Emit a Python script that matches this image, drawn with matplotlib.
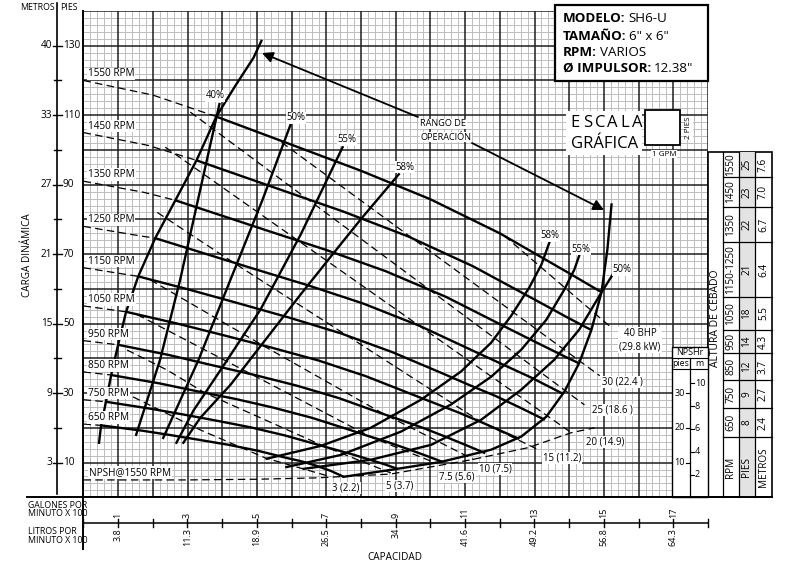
import numpy as np
import matplotlib
matplotlib.use("Agg")
import matplotlib.pyplot as plt
from matplotlib.patches import Rectangle

plt.rcParams['font.family'] = ['Open Sans', 'DejaVu Sans']

# ---------------- data (GPM, ft) ----------------
RPMS = [1550, 1450, 1350, 1250, 1150, 1050, 950, 850, 750, 650]
HEAD_Q = {
    1550: [0, 200, 383, 600, 800, 1000, 1200, 1400, 1494],
    1450: [0, 187, 326, 561, 748, 936, 1123, 1310, 1398, 1463],
    1350: [0, 174, 265, 523, 697, 871, 1045, 1219, 1301, 1394, 1428],
    1250: [0, 161, 207, 484, 645, 806, 968, 1129, 1205, 1290, 1382],
    1150: [0, 158, 297, 445, 594, 742, 890, 1039, 1108, 1187, 1261, 1330],
    1050: [0, 123, 271, 406, 542, 677, 813, 948, 1012, 1084, 1152, 1256],
    950:  [0, 100, 245, 368, 490, 613, 735, 858, 916, 981, 1042, 1103, 1158],
    850:  [0, 80, 219, 329, 439, 548, 658, 768, 819, 877, 932, 987, 1035],
    750:  [0, 65, 194, 290, 387, 484, 581, 677, 723, 774, 823, 871, 905],
    650:  [0, 51, 168, 252, 336, 419, 503, 587, 627, 671, 713, 750],
}
HEAD_H = {
    1550: [120.0, 115.8, 109.6, 101.5, 94.0, 85.8, 76.0, 64.5, 59.0],
    1450: [105.0, 101.3, 97.0, 88.8, 82.3, 75.1, 66.5, 56.4, 51.6, 48.2],
    1350: [91.0, 87.8, 85.5, 77.0, 71.3, 65.1, 57.7, 48.9, 44.8, 40.2, 38.6],
    1250: [78.0, 75.3, 74.6, 66.0, 61.1, 55.8, 49.4, 41.9, 38.4, 34.5, 29.8],
    1150: [66.1, 63.6, 60.0, 55.9, 51.7, 47.2, 41.8, 35.5, 32.5, 29.2, 25.7, 22.3],
    1050: [55.1, 53.4, 50.0, 46.6, 43.1, 39.4, 34.9, 29.6, 27.1, 24.3, 21.4, 16.8],
    950:  [45.1, 43.9, 41.0, 38.1, 35.3, 32.2, 28.6, 24.2, 22.2, 19.9, 17.5, 15.0, 12.7],
    850:  [36.1, 35.2, 32.8, 30.5, 28.3, 25.8, 22.9, 19.4, 17.7, 15.9, 14.0, 12.0, 10.2],
    750:  [28.1, 27.5, 25.5, 23.8, 22.0, 20.1, 17.8, 15.1, 13.8, 12.4, 10.9, 9.4, 8.2],
    650:  [21.1, 20.7, 19.2, 17.9, 16.5, 15.1, 13.4, 11.3, 10.4, 9.1, 7.6, 5.9],
}
# flow where the solid (operating) part of each curve begins
SOLID_FROM = {1550: 383, 1450: 326, 1350: 265, 1250: 207, 1150: 158,
              1050: 123, 950: 100, 850: 80, 750: 65, 650: 51}

LEFT_BOUND_Q = [45, 51, 65, 80, 100, 123, 158, 207, 265, 326, 383, 438, 490, 513]
LEFT_BOUND_H = [15.7, 20.7, 27.5, 35.2, 43.9, 53.4, 63.6, 74.6, 85.5, 97.0, 109.6, 118.5, 126.5, 131.4]

RIGHT_BOUND_Q = [750, 886, 1031, 1175, 1262, 1334, 1386, 1429, 1464, 1493, 1510, 1522]
RIGHT_BOUND_H = [5.9, 7.9, 10.2, 13.7, 17.5, 23.2, 30.4, 38.7, 48.2, 59.0, 71.3, 84.3]

EFF_LEFT = {
    "40%": ([152, 221, 279, 337, 392], [18.0, 39.6, 62.7, 88.7, 113.2]),
    "50%": ([230, 332, 424, 516, 597], [17.1, 39.6, 62.7, 85.6, 107.3]),
    "55%": ([268, 318, 405, 510, 626, 747], [15.7, 25.1, 38.1, 54.0, 75.6, 100.8]),
    "58%": ([288, 337, 424, 525, 626, 713, 799, 909], [15.7, 22.9, 32.4, 45.4, 58.4, 69.3, 80.0, 93.0]),
}
EFF_RIGHT = {
    "58%": ([528, 684, 828, 973, 1088, 1175, 1233, 1285, 1320, 1343],
            [11.1, 14.8, 20.0, 28.1, 36.2, 44.5, 52.3, 60.4, 67.0, 73.4]),
    "55%": ([585, 742, 915, 1059, 1175, 1262, 1334, 1386, 1415, 1430],
            [8.7, 12.2, 18.9, 26.7, 34.7, 42.5, 51.1, 59.8, 65.6, 69.9]),
    "50%": ([635, 828, 1002, 1146, 1262, 1357, 1429, 1493, 1531],
            [8.2, 10.8, 15.1, 22.3, 31.0, 39.6, 48.3, 59.0, 65.0]),
}

NPSH_Q = [0, 300, 500, 675, 886, 1117, 1282, 1406, 1473]
NPSH_H = [5.0, 5.0, 5.2, 5.6, 6.7, 10.8, 14.3, 18.6, 20.0]

BHP_NAMES = ["3 (2.2)", "5 (3.7)", "7.5 (5.6)", "10 (7.5)", "15 (11.2)",
             "20 (14.9)", "25 (18.6 )", "30 (22.4 )", "40 BHP\n(29.8 kW)"]
BHP_Q = [[143, 337, 525, 713],
         [126, 242, 351, 698, 886],
         [155, 481, 834, 1007],
         [193, 519, 860, 1126],
         [213, 432, 759, 1146, 1311],
         [236, 1406],
         [308, 1444],
         [571, 1488],
         [1213, 1522]]
BHP_H = [[28.9, 19.4, 11.3, 5.9],
         [42.4, 36.6, 30.0, 14.5, 7.0],
         [52.6, 35.6, 17.1, 10.2],
         [62.6, 43.6, 24.3, 10.8],
         [82.0, 67.6, 46.6, 21.7, 13.7],
         [100.8, 18.6],
         [110.9, 26.6],
         [102.2, 35.0],
         [75.3, 48.8]]

FT_TICKS = [10, 30, 50, 70, 90, 110, 130]
M_TICKS = ["3", "9", "15", "21", "27", "33", "40"]
GPM_TICKS = [100, 300, 500, 700, 900, 1100, 1300, 1500, 1700]
GPM_LABELS = ["1", "3", "5", "7", "9", "11", "13", "15", "17"]
LPM_LABELS = ["3.8", "11.3", "18.9", "26.5", "34", "41.6", "49.2", "56.8", "64.3"]

TABLE_RPM = ["1550", "1450", "1350", "1150-1250", "1050", "950", "850", "750", "650", "RPM"]
TABLE_PIES = ["25", "23", "22", "21", "18", "14", "12", "9", "8", "PIES"]
TABLE_M = ["7.6", "7.0", "6.7", "6.4", "5.5", "4.3", "3.7", "2.7", "2.4", "METROS"]

NPSH_FT_TICKS = [10, 20, 30]
NPSH_M_TICKS = [2, 4, 6, 8, 10]

# ---------------- layout ----------------
W, H = 788, 564
PL, PR, PB, PT = 83.4, 708.0, 497.3, 11.0
QMAX, HMAX = 1800, 140

fig = plt.figure(figsize=(W / 100, H / 100), dpi=100)
fig.patch.set_facecolor('white')
ax = fig.add_axes([PL / W, 1 - PB / H, (PR - PL) / W, (PB - PT) / H])
ax.set_xlim(0, QMAX)
ax.set_ylim(0, HMAX)
ax.axis('off')

ov = fig.add_axes([0, 0, 1, 1], zorder=5)
ov.set_xlim(0, W)
ov.set_ylim(H, 0)
ov.axis('off')
ov.patch.set_alpha(0)


def px_x(q):
    return PL + q / QMAX * (PR - PL)


def px_y(h):
    return PB - h / HMAX * (PB - PT)


# grid
minor_c, major_c = '#bcbcbc', '#1e1e1e'
for q in range(0, QMAX + 1, 20):
    if q % 100:
        ax.axvline(q, color=minor_c, lw=0.7, zorder=1)
for h in range(0, HMAX + 1, 2):
    if h % 10:
        ax.axhline(h, color=minor_c, lw=0.7, zorder=1)
for q in range(0, QMAX + 1, 100):
    ax.axvline(q, color=major_c, lw=1.1, zorder=1.5)
for h in range(0, HMAX + 1, 10):
    ax.axhline(h, color=major_c, lw=1.1, zorder=1.5)

DASH = (0, (6, 3.5))
LW = 1.7

# head curves
for n in RPMS:
    q = np.array(HEAD_Q[n], float)
    h = np.array(HEAD_H[n], float)
    qs = SOLID_FROM[n]
    hs = np.interp(qs, q, h)
    m = q < qs
    ax.plot(np.r_[q[m], qs], np.r_[h[m], hs], color='k', lw=0.9, ls=DASH, zorder=3)
    m2 = q > qs
    ax.plot(np.r_[qs, q[m2]], np.r_[hs, h[m2]], color='k', lw=LW, zorder=3,
            solid_capstyle='butt')

ax.plot(LEFT_BOUND_Q, LEFT_BOUND_H, color='k', lw=LW, zorder=3)
ax.plot(RIGHT_BOUND_Q, RIGHT_BOUND_H, color='k', lw=LW, zorder=3)
for name, (q, h) in EFF_LEFT.items():
    ax.plot(q, h, color='k', lw=LW, zorder=3)
for name, (q, h) in EFF_RIGHT.items():
    ax.plot(q, h, color='k', lw=LW, zorder=3)
ax.plot(NPSH_Q, NPSH_H, color='k', lw=0.9, ls=DASH, zorder=3)
for q, h in zip(BHP_Q, BHP_H):
    ax.plot(q, h, color='k', lw=0.9, ls=DASH, zorder=3)

# ---------------- overlay (pixel space) ----------------
FS = 7.2
wb = dict(facecolor='white', edgecolor='none', pad=0.6)

for n in RPMS:
    ov.text(88, px_y(HEAD_H[n][0]) - 6.5, f"{n} RPM", ha='left', va='center',
            fontsize=FS, bbox=wb, zorder=6)

ov.text(89, 472.5, "NPSH@1550 RPM", ha='left', va='center', fontsize=FS, bbox=wb)

for txt, (x, y) in zip(["40%", "50%", "55%", "58%"], [(215, 96), (296, 118), (347, 140), (405, 167)]):
    ov.text(x, y, txt, ha='center', va='center', fontsize=FS - 0.3, bbox=wb)
for txt, (x, y) in zip(["58%", "55%", "50%"], [(550, 236), (581, 249), (622, 270)]):
    ov.text(x, y, txt, ha='center', va='center', fontsize=FS - 0.3, bbox=wb)

bhp_pos = [(346, 488), (400, 486), (457, 477), (495, 469), (562, 458),
           (605, 442), (612, 410), (622, 382), (640, 340)]
for txt, (x, y) in zip(BHP_NAMES, bhp_pos):
    ov.text(x, y, txt, ha='center', va='center', fontsize=FS - 0.3, bbox=wb,
            linespacing=1.3)

ov.text(443, 124, "RANGO DE", ha='center', va='center', fontsize=FS - 0.6, bbox=wb)
ov.text(446, 137, "OPERACIÓN", ha='center', va='center', fontsize=FS - 0.6, bbox=wb)
ap = dict(arrowstyle='-|>', color='k', lw=1.3, mutation_scale=16, shrinkA=0, shrinkB=0)
ov.annotate("", xy=(262, 53), xytext=(418, 117), arrowprops=ap)
ov.annotate("", xy=(604, 210), xytext=(472, 143), arrowprops=ap)

# left axis
ov.plot([57.5, 57.5], [3, 494], color='k', lw=1.2)
ov.text(55, 8, "METROS", ha='right', va='center', fontsize=6.3)
ov.text(60, 8, "PIES", ha='left', va='center', fontsize=6.3)
for h in range(10, HMAX, 10):
    y = px_y(h)
    if h in FT_TICKS:
        ov.plot([53, 62], [y, y], color='k', lw=1.0)
    else:
        ov.plot([54, 61], [y, y], color='k', lw=1.0)
for h, m in zip(FT_TICKS, M_TICKS):
    y = px_y(h)
    ov.text(52, y, m, ha='right', va='center', fontsize=FS)
    ov.text(63, y, str(h), ha='left', va='center', fontsize=FS)
ov.text(28, 255, "CARGA DINÁMICA", rotation=90, ha='center', va='center', fontsize=FS)

ov.plot([27, 772], [PB, PB], color='k', lw=1.4)
ov.plot([PL, PL], [PT, 549], color='k', lw=1.4)

# bottom axis
ov.plot([PL, PR], [523, 523], color='k', lw=1.1)
for q in range(0, QMAX + 1, 100):
    x = px_x(q)
    ov.plot([x, x], [519, 527], color='k', lw=1.0)
for q, g, l in zip(GPM_TICKS, GPM_LABELS, LPM_LABELS):
    x = px_x(q)
    ov.text(x, 518, g, rotation=90, ha='center', va='bottom', fontsize=6.5)
    ov.text(x, 528, l, rotation=90, ha='center', va='top', fontsize=6.5)
ov.text(28, 509.5, "GALONES POR\nMINUTO X 100", ha='left', va='center', fontsize=6.3, linespacing=1.0)
ov.text(28, 536, "LITROS POR\nMINUTO X 100", ha='left', va='center', fontsize=6.3, linespacing=1.0)
ov.text(395, 557, "CAPACIDAD", ha='center', va='center', fontsize=FS)

# table (altura de cebado)
ov.add_patch(Rectangle((708, 152), 64, PB - 152, facecolor='white', edgecolor='k', lw=1.2, zorder=1))
ov.add_patch(Rectangle((739, 152), 16, PB - 152, facecolor='#e3e3e3', edgecolor='none', zorder=1.1))
rows = [152, 177, 207, 242, 297, 330, 353, 380, 408, 437, PB]
cols = [723, 739, 755, 772]
for x in cols[:-1]:
    ov.plot([x, x], [152, PB], color='k', lw=0.9, zorder=2)
for y in rows[1:-1]:
    ov.plot([723, 772], [y, y], color='k', lw=0.9, zorder=2)
for i in range(len(TABLE_RPM)):
    yc = (rows[i] + rows[i + 1]) / 2
    for j, vals in enumerate([TABLE_RPM, TABLE_PIES, TABLE_M]):
        xc = (cols[j] + cols[j + 1]) / 2
        ov.text(xc, yc, vals[i], rotation=90, ha='center', va='center', fontsize=FS, zorder=3)
ov.text(715.5, 318, "ALTURA DE CEBADO", rotation=90, ha='center', va='center', fontsize=FS + 0.3)

# NPSHr inset
ov.add_patch(Rectangle((672, 347), 36, PB - 347, facecolor='white', edgecolor='k', lw=1.0, zorder=1))
ov.plot([672, 708], [358, 358], color='k', lw=0.8)
ov.plot([672, 708], [369, 369], color='k', lw=0.8)
ov.plot([690, 690], [358, PB], color='k', lw=0.9)
ov.text(690, 352.5, "NPSHr", ha='center', va='center', fontsize=6.5)
ov.text(681, 364, "pies", ha='center', va='center', fontsize=6.3)
ov.text(699, 364, "m", ha='center', va='center', fontsize=6.3)
for v in NPSH_FT_TICKS:
    y = px_y(v)
    ov.plot([686, 690], [y, y], color='k', lw=0.8)
    ov.text(685, y, str(v), ha='right', va='center', fontsize=6.5)
for v in NPSH_M_TICKS:
    y = px_y(v * 3.2808)
    ov.plot([690, 694], [y, y], color='k', lw=0.8)
    ov.text(695, y, str(v), ha='left', va='center', fontsize=6.5)

# title box
ov.add_patch(Rectangle((555, 5), 153, 76, facecolor='white', edgecolor='k', lw=1.6, zorder=2))
fig.canvas.draw()
rend = fig.canvas.get_renderer()
for (b, r), y in zip([("MODELO:", "SH6-U"), ("TAMAÑO:", '6" x 6"'), ("RPM:", "VARIOS"),
                      ("Ø IMPULSOR:", '12.38"')], [19, 36, 52, 68]):
    t = ov.text(563, y, b, ha='left', va='center', fontsize=9.6, fontweight='bold', zorder=3)
    bb = t.get_window_extent(renderer=rend)
    ov.text(bb.x1 + 3, y, r, ha='left', va='center', fontsize=9.6, zorder=3)

# escala grafica
ov.add_patch(Rectangle((566, 111), 76, 44, facecolor='white', edgecolor='none', zorder=1))
for i, ch in enumerate("ESCALA"):
    ov.text(575 + i * 12.4, 123, ch, ha='center', va='center', fontsize=12, zorder=2)
ov.text(605, 144, "GRÁFICA", ha='center', va='center', fontsize=12, zorder=2)
ov.add_patch(Rectangle((645, 110), 35, 35, facecolor='white', edgecolor='k', lw=1.3, zorder=2))
ov.text(689, 128, "2 PIES", rotation=90, ha='center', va='center', fontsize=5.8, bbox=wb)
ov.text(664, 154, "1 GPM", ha='center', va='center', fontsize=5.8, bbox=wb)

fig.savefig("out.png", dpi=100)
